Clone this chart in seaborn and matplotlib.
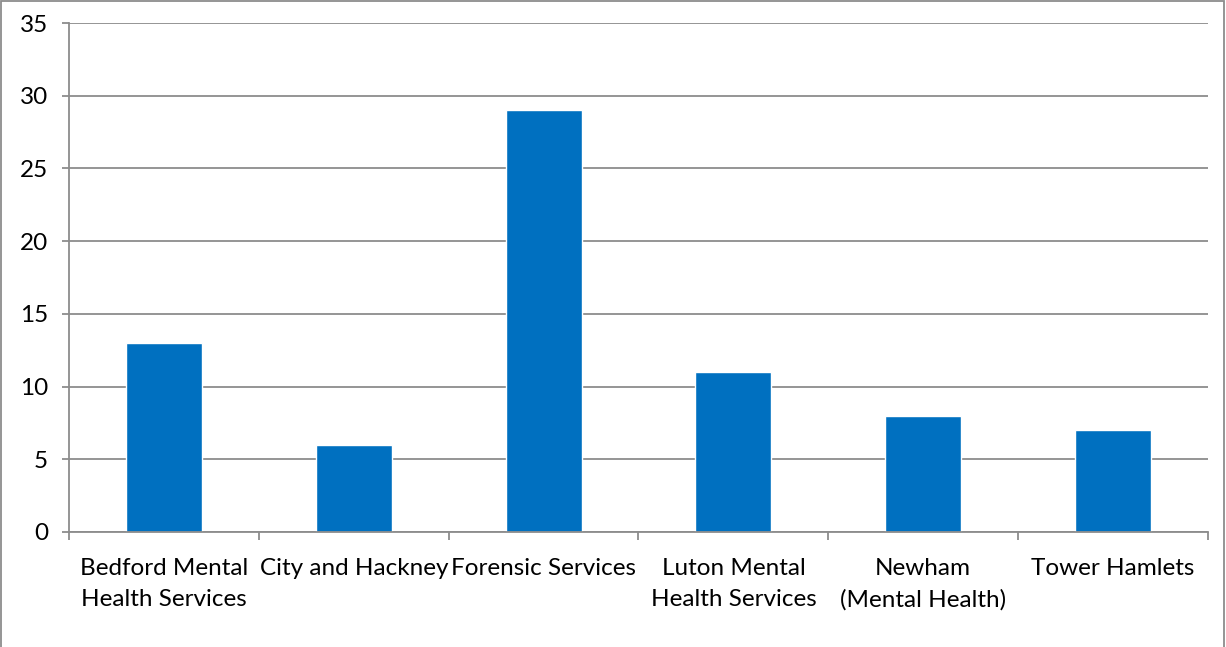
import matplotlib
matplotlib.use("Agg")
import matplotlib.pyplot as plt
import seaborn as sns
import pandas as pd
import numpy as np
from matplotlib.patches import Rectangle

categories = ["Bedford Mental\nHealth Services", "City and Hackney", "Forensic Services",
              "Luton Mental\nHealth Services", "Newham\n(Mental Health)", "Tower Hamlets"]
values = [13, 6, 29, 11, 8, 7]
y_ticks = [0, 5, 10, 15, 20, 25, 30, 35]

sns.set_theme(style="white")
plt.rcParams['font.family'] = ['Lato', 'DejaVu Sans']

fig = plt.figure(figsize=(12.26, 6.47), dpi=100)
ax = fig.add_axes([69/1226, 1-532/647, (1208-69)/1226, (532-23)/647])

df = pd.DataFrame({"cat": categories, "val": values})
sns.barplot(data=df, x="cat", y="val", color="#0070C0", width=0.4, saturation=1, ax=ax)

ax.set_ylim(0, 35)
ax.set_xlim(-0.5, len(categories) - 0.5)
ax.set_yticks(y_ticks)
ax.grid(axis="y", color="#8c8c8c", linewidth=1.3)
ax.set_axisbelow(True)
ax.set_xlabel("")
ax.set_ylabel("")
for s in ["top", "right"]:
    ax.spines[s].set_visible(False)
for s in ["left", "bottom"]:
    ax.spines[s].set_color("#8c8c8c")
    ax.spines[s].set_linewidth(1.3)

ax.tick_params(axis="y", which="major", length=5, width=1.3, color="#8c8c8c",
               labelsize=17.5, pad=10, left=True)
ax.tick_params(axis="x", which="major", length=0, labelsize=17.5, pad=19)
ax.set_xticks(np.arange(-0.5, len(categories), 1.0), minor=True)
ax.tick_params(axis="x", which="minor", length=6, width=1.3, color="#8c8c8c", bottom=True)
for lbl in ax.get_xticklabels():
    lbl.set_linespacing(1.55)
    lbl.set_color("black")
for lbl in ax.get_yticklabels():
    lbl.set_color("black")

fig.patches.append(Rectangle((1.5/1226, -0.01), 1 - 4/1226, 1.0 - 1/647 + 0.01, transform=fig.transFigure,
                             fill=False, edgecolor="#8c8c8c", linewidth=1.3))

fig.savefig("out.png", dpi=100)
